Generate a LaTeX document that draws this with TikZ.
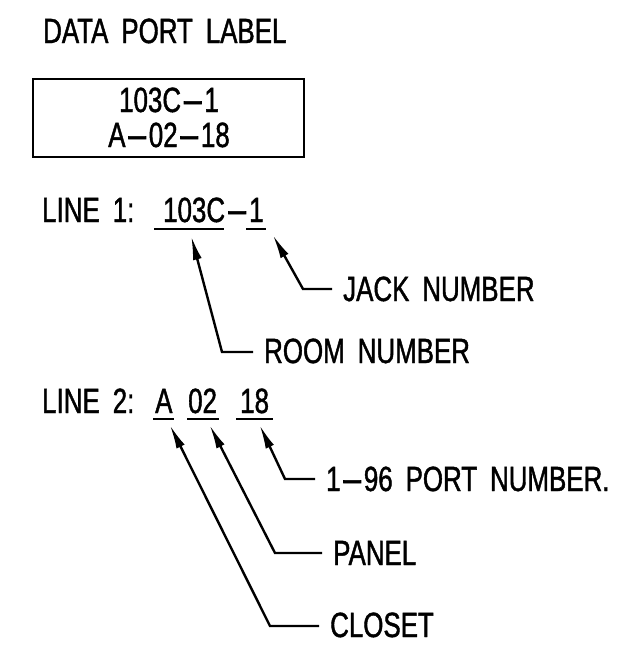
\documentclass[tikz,border=0pt]{standalone}
\usepackage{fontspec}
\setmainfont{Liberation Sans}[FakeStretch=0.74, WordSpace=1.8, FakeBold=1.2]
\usetikzlibrary{arrows.meta}
\newcommand\dsh{\scalebox{2.7}[1]{-}}
\begin{document}
\begin{tikzpicture}[x=1pt,y=-1pt,
  txt/.style={inner sep=0pt, anchor=base west, font=\fontsize{35}{40}\selectfont},
  uline/.style={line width=2.4pt},
  leader/.style={line width=2.4pt, shorten <=11pt, -{Latex[length=24pt,width=9pt]}}]
\useasboundingbox (0,0) rectangle (622,648);
% title and label box
\node[txt] (title) at (43,43) {DATA PORT LABEL};
\node[draw, line width=2.6pt, minimum width=271pt, minimum height=78pt, inner sep=0pt] (box) at (168.5,118) {};
\node[txt, anchor=base] (b1) at (169,112) {103C\dsh1};
\node[txt, anchor=base] (b2) at (169,147) {A\dsh02\dsh18};
% line 1
\node[txt] (l1) at (42,222) {LINE 1:};
\node[txt] (room) at (163,222) {103C};
\node[txt] (d1) at (room.base east) {\dsh};
\node[txt] (jack) at (d1.base east) {1};
\draw[uline] ([xshift=-9pt,yshift=-7pt]room.base west) -- ([xshift=-1pt,yshift=-7pt]room.base east);
\draw[uline] ([xshift=-3pt,yshift=-7pt]jack.base west) -- ([xshift=2pt,yshift=-7pt]jack.base east);
\coordinate (roomtip) at ([xshift=-3pt,yshift=-14pt]room.base);
\coordinate (jacktip) at ([xshift=9pt,yshift=-13pt]jack.base east);
\node[txt] (roomlbl) at (264,363) {ROOM NUMBER};
\node[txt] (jacklbl) at (343,301) {JACK NUMBER};
\coordinate (roomel) at (222,352);
\coordinate (jackel) at (303,289);
\draw[leader] (roomlbl.west |- roomel) -- (roomel) -- (roomtip);
\draw[leader] (jacklbl.west |- jackel) -- (jackel) -- (jacktip);
% line 2
\node[txt] (l2) at (42,413) {LINE 2:};
\node[txt] (cl) at (155,413) {A};
\node[txt] (pn) at (188,413) {02};
\node[txt] (pt) at (240,413) {18};
\draw[uline] ([xshift=-2pt,yshift=-6pt]cl.base west) -- ([xshift=1pt,yshift=-6pt]cl.base east);
\draw[uline] ([xshift=-1pt,yshift=-6pt]pn.base west) -- ([xshift=2pt,yshift=-6pt]pn.base east);
\draw[uline] ([xshift=-4pt,yshift=-6pt]pt.base west) -- ([xshift=4pt,yshift=-6pt]pt.base east);
\coordinate (cltip) at ([xshift=6pt,yshift=-12pt]cl.base);
\coordinate (pntip) at ([xshift=7pt,yshift=-12pt]pn.base);
\coordinate (pttip) at ([xshift=5pt,yshift=-12pt]pt.base);
\node[txt] (ptlbl) at (326,491) {1\dsh96 PORT NUMBER.};
\node[txt] (pnlbl) at (333,565) {PANEL};
\node[txt] (cllbl) at (330,637) {CLOSET};
\coordinate (ptel) at (285,479);
\coordinate (pnel) at (275,553);
\coordinate (clel) at (270,626);
\draw[leader] (ptlbl.west |- ptel) -- (ptel) -- (pttip);
\draw[leader] (pnlbl.west |- pnel) -- (pnel) -- (pntip);
\draw[leader] (cllbl.west |- clel) -- (clel) -- (cltip);
\end{tikzpicture}
\end{document}
